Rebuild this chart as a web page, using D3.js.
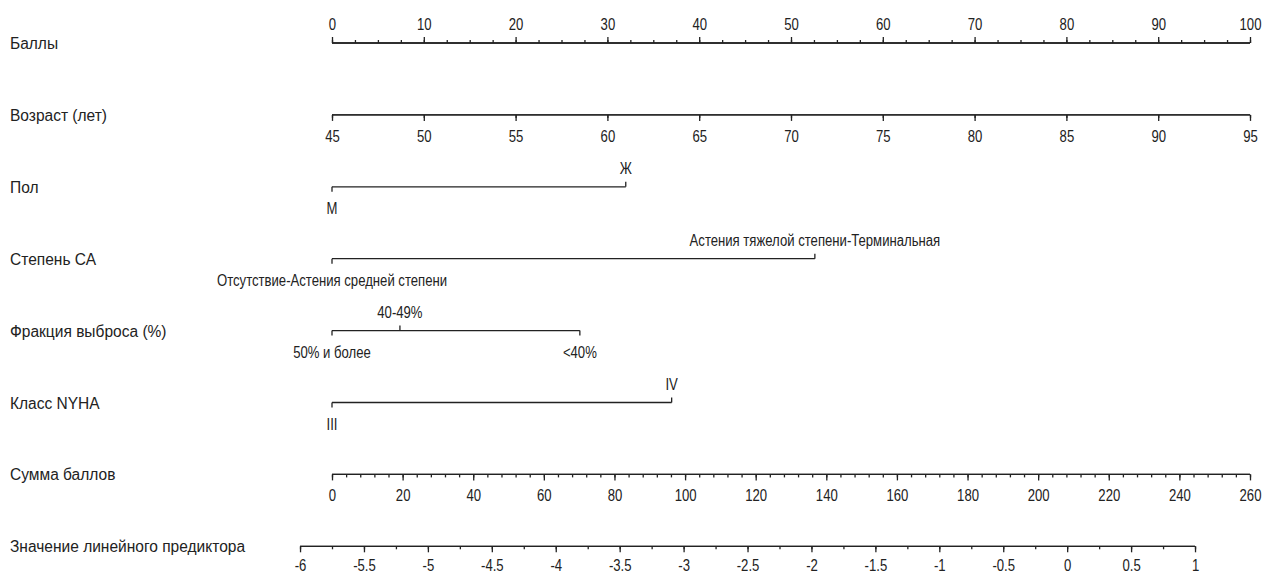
<!DOCTYPE html>
<html lang="ru">
<head>
<meta charset="utf-8">
<title>Номограмма</title>
<script src="https://d3js.org/d3.v7.min.js"></script>
<style>
  body { margin: 0; background: #fff; }
  text { font-family: "Liberation Sans", Arial, sans-serif; fill: #222; }
  .axis path, .axis line, .cat line { stroke: #222; stroke-width: 1.3; }
  .axis text { font-size: 16px; }
  .rowlab { font-size: 16px; }
  .catlab { font-size: 16px; }
</style>
</head>
<body>
<script>
// row titles
var rows = ["Баллы", "Возраст (лет)", "Пол", "Степень СА", "Фракция выброса (%)",
            "Класс NYHA", "Сумма баллов", "Значение линейного предиктора"];

// continuous scales
var pointsTicks = d3.range(0, 101, 10);
var ageTicks = d3.range(45, 96, 5);
var totalTicks = d3.range(0, 261, 20);
var lpTicks = d3.range(-6, 1.01, 0.5);

// categorical variables: label + points
var sexLevels = ["М", "Ж"];
var sexPoints = [0, 32];
var caLevels = ["Отсутствие-Астения средней степени", "Астения тяжелой степени-Терминальная"];
var caPoints = [0, 52.6];
var efLevels = ["50% и более", "40-49%", "<40%"];
var efPoints = [0, 7.4, 27];
var nyhaLevels = ["III", "IV"];
var nyhaPoints = [0, 37];

// linear predictor at total = 0 and total = 260
var lpRange = [-5.75, 1.43];

var w = 1278, h = 574;
var margin = {left: 332, right: 28, top: 43, rowStep: 71.9};
var narrow = 0.82;   // fake Arial Narrow
var rowNarrow = 0.97;

var svg = d3.select("body").append("svg")
    .attr("width", w)
    .attr("height", h);

var x = d3.scaleLinear().domain([0, 100]).range([margin.left, w - margin.right]);
var rowY = d => margin.top + d * margin.rowStep;

// row titles
svg.selectAll(".rowlab")
  .data(rows)
  .enter().append("text")
    .attr("class", "rowlab")
    .attr("x", 10)
    .attr("y", (d, i) => rowY(i) + 6)
    .text(d => d);

// numeric axes with minor ticks
function numAxis(scale, row, major, minorStep, top, labY) {
  var g = svg.append("g").attr("class", "axis")
      .attr("transform", `translate(0, ${rowY(row)})`);
  var d0 = scale.domain()[0], d1 = scale.domain()[1];
  var minor = d3.range(d0, d1 + minorStep / 2, minorStep);
  var mk = top ? d3.axisTop : d3.axisBottom;
  g.append("g").call(mk(scale).tickValues(minor).tickSize(3).tickSizeOuter(0).tickFormat(""));
  g.append("g").call(mk(scale).tickValues(major).tickSize(6).tickSizeOuter(0).tickFormat(d => String(d)));
  g.selectAll(".domain").attr("d", `M${scale.range()[0]},0H${scale.range()[1]}`);
  g.selectAll(".tick text").attr("dy", null).attr("y", labY);
  return g;
}

numAxis(x, 0, pointsTicks, 2.5, true, -13);

var ageX = d3.scaleLinear().domain([45, 95]).range(x.range());
numAxis(ageX, 1, ageTicks, 5, false, 27);

var totalX = d3.scaleLinear().domain([0, 260]).range(x.range());
numAxis(totalX, 6, totalTicks, 4, false, 27);

var lpFull = d3.scaleLinear().domain(lpRange).range(x.range());
var lpX = d3.scaleLinear().domain([-6, 1]).range([lpFull(-6), lpFull(1)]);
numAxis(lpX, 7, lpTicks, 0.25, false, 25);

// categorical rows: labels alternate below / above
function catRow(levels, pts, row) {
  var g = svg.append("g").attr("class", "cat")
      .attr("transform", `translate(0, ${rowY(row)})`);
  g.append("line")
    .attr("x1", x(d3.min(pts))).attr("x2", x(d3.max(pts)))
    .attr("y1", 0).attr("y2", 0);
  var items = levels.map((l, i) => ({label: l, p: pts[i], up: i % 2 == 1}));
  g.selectAll(".tk").data(items).enter().append("line")
    .attr("x1", d => x(d.p)).attr("x2", d => x(d.p))
    .attr("y1", 0).attr("y2", d => d.up ? -5 : 5);
  g.selectAll(".catlab").data(items).enter().append("text")
    .attr("class", "catlab")
    .attr("x", d => x(d.p))
    .attr("y", d => d.up ? -13 : 27)
    .attr("text-anchor", "middle")
    .text(d => d.label);
}

catRow(sexLevels, sexPoints, 2);
catRow(caLevels, caPoints, 3);
catRow(efLevels, efPoints, 4);
catRow(nyhaLevels, nyhaPoints, 5);

// squeeze every label horizontally
svg.selectAll("text").each(function() {
  var len = this.getComputedTextLength();
  var f = this.classList.contains("rowlab") ? rowNarrow : narrow;
  if (len > 0) {
    d3.select(this).attr("textLength", len * f).attr("lengthAdjust", "spacingAndGlyphs");
  }
});
</script>
</body>
</html>
